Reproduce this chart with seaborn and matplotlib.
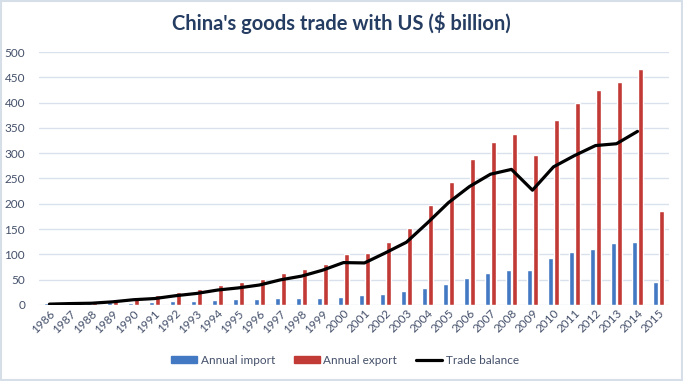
import numpy as np
import pandas as pd
import matplotlib
matplotlib.use("Agg")
import matplotlib.pyplot as plt
import matplotlib.patches as mpatches
import matplotlib.lines as mlines
import seaborn as sns

# --- data ($ billion) ---
years = [str(y) for y in range(1986, 2016)]
annual_import = [3.1, 3.5, 5.0, 5.8, 4.8, 6.3, 7.4, 8.8, 9.3, 11.8,
                 12.0, 12.9, 14.2, 13.1, 16.2, 19.2, 22.1, 28.4, 34.4, 41.2,
                 53.7, 62.9, 69.7, 69.5, 91.9, 104.1, 110.5, 121.7, 123.7, 46.0]
annual_export = [4.8, 6.3, 8.5, 12.0, 15.2, 19.0, 25.7, 31.5, 38.8, 45.5,
                 51.5, 62.6, 71.2, 81.8, 100.0, 102.3, 125.2, 152.4, 196.7, 243.5,
                 287.8, 321.4, 337.8, 296.4, 364.9, 399.4, 425.6, 440.4, 466.8, 185.0]
trade_balance = [1.7, 2.8, 3.5, 6.2, 10.4, 12.7, 18.3, 22.8, 29.5, 33.8,
                 39.5, 49.7, 57.0, 68.7, 83.8, 83.1, 103.1, 124.1, 162.3, 202.3,
                 234.1, 258.5, 268.0, 226.9, 273.0, 295.3, 315.1, 318.7, 343.1]

series_names = ["Annual import", "Annual export", "Trade balance"]
colors = ["#4378c2", "#c23a36", "#000000"]
text_col = "#44506a"

bars = pd.DataFrame({
    "year": years * 2,
    "value": annual_import + annual_export,
    "series": [series_names[0]] * len(years) + [series_names[1]] * len(years),
})
line = pd.DataFrame({"pos": np.arange(len(trade_balance)), "value": trade_balance})

sns.set_style("white")
plt.rcParams["font.family"] = ["Lato", "DejaVu Sans"]

fig = plt.figure(figsize=(6.83, 3.81), dpi=100)
ax = fig.add_axes([0.057, 0.1995, 0.9225, 0.664])

sns.barplot(data=bars, x="year", y="value", hue="series", order=years,
            palette=colors[:2], width=0.56, gap=0.03, saturation=1,
            legend=False, ax=ax)
sns.lineplot(data=line, x="pos", y="value", color=colors[2], linewidth=2.3,
             ax=ax, legend=False)

ax.set_xlim(-0.5, len(years) - 0.5)
ax.set_ylim(0, 500)
ax.set_yticks(range(0, 501, 50))
ax.grid(axis="y", color="#d9e1ec", linewidth=1)
ax.set_axisbelow(True)
for s in ax.spines.values():
    s.set_visible(False)
ax.set_xlabel("")
ax.set_ylabel("")
ax.tick_params(axis="both", length=0, labelsize=8.5, labelcolor=text_col)
ax.tick_params(axis="y", pad=10)
ax.tick_params(axis="x", pad=2)
for lbl in ax.get_xticklabels():
    lbl.set_rotation(45)
    lbl.set_ha("right")
    lbl.set_rotation_mode("anchor")

fig.text(0.5, 0.94, "China's goods trade with US ($ billion)", ha="center",
         va="center", fontsize=14.5, fontweight="bold", color="#253d62")

handles = [mpatches.Patch(color=colors[0], label=series_names[0]),
           mpatches.Patch(color=colors[1], label=series_names[1]),
           mlines.Line2D([], [], color=colors[2], linewidth=2.3, label=series_names[2])]
leg = fig.legend(handles=handles, loc="center", bbox_to_anchor=(0.505, 0.055),
                 ncol=3, frameon=False, fontsize=8.5, handlelength=2.2,
                 handleheight=0.5, columnspacing=1.6, handletextpad=0.3)
for t in leg.get_texts():
    t.set_color(text_col)

fig.patches.append(mpatches.Rectangle((0.002, 0.003), 0.996, 0.994, transform=fig.transFigure,
                                      fill=False, edgecolor="#d6dee8", linewidth=1.5))

fig.savefig("out.png", dpi=100)
